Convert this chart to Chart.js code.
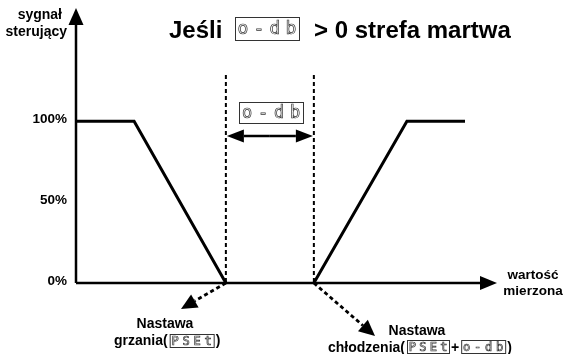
<!DOCTYPE html>
<html>
<head>
<meta charset="utf-8">
<script src="https://cdn.jsdelivr.net/npm/chart.js@4.4.1/dist/chart.umd.min.js"></script>
<style>
  html, body { margin: 0; background: #fff; }
</style>
</head>
<body>
<canvas id="wykres" width="567" height="354"></canvas>
<script>
// dane wykresu (oś X w umownych jednostkach wartości mierzonej)
const grzanieX = [0, 13.8, 35.6];
const grzanieY = [100, 100, 0];
const chlodzenieX = [56.5, 78.6, 92.4];
const chlodzenieY = [0, 100, 100];
const yTickWartosci = [100, 50, 0];
const yTickEtykiety = ["100%", "50%", "0%"];
const nastawaGrzania = 35.6;
const nastawaChlodzenia = 56.5;
const xMax = 100;
const yMax = 170;

const FONT = '"Liberation Sans", Arial, sans-serif';

function punkty(xs, ys) {
  return xs.map((x, i) => ({ x: x, y: ys[i] }));
}

// strzałka z wypełnionym grotem
function strzalka(c, x1, y1, x2, y2, dl, szer, przerywana) {
  const a = Math.atan2(y2 - y1, x2 - x1);
  const bx = x2 - dl * Math.cos(a), by = y2 - dl * Math.sin(a);
  c.save();
  if (przerywana) c.setLineDash([4, 3]);
  c.beginPath();
  c.moveTo(x1, y1);
  c.lineTo(bx, by);
  c.stroke();
  c.setLineDash([]);
  c.beginPath();
  c.moveTo(x2, y2);
  c.lineTo(bx + szer * Math.sin(a), by - szer * Math.cos(a));
  c.lineTo(bx - szer * Math.sin(a), by + szer * Math.cos(a));
  c.closePath();
  c.fill();
  c.restore();
}

// ramka z napisem jak na wyświetlaczu regulatora
function wyswietlacz(c, tekst, x, y, w, h, rozm) {
  c.save();
  c.strokeStyle = "#333";
  c.lineWidth = 1;
  c.strokeRect(x + 0.5, y + 0.5, w, h);
  c.font = rozm + 'px "DejaVu Sans Mono", monospace';
  c.textAlign = "center";
  c.textBaseline = "middle";
  c.lineWidth = 0.7;
  c.strokeStyle = "#333";
  const znaki = [...tekst];
  znaki.forEach((z, i) => {
    c.strokeText(z, x + w * (i + 0.5) / znaki.length, y + h / 2 + 1);
  });
  c.restore();
}

const opisy = {
  id: "opisy",
  afterDraw(chart) {
    const c = chart.ctx;
    const sx = chart.scales.x, sy = chart.scales.y;
    const x0 = sx.getPixelForValue(0), y0 = sy.getPixelForValue(0);
    c.save();
    c.fillStyle = "#000";
    c.strokeStyle = "#000";

    // osie ze strzałkami
    c.lineWidth = 2.5;
    strzalka(c, x0, y0, x0, sy.getPixelForValue(yMax), 17, 7.5, false);
    strzalka(c, x0, y0, sx.getPixelForValue(xMax), y0, 17, 7, false);

    // strefa martwa - przerywane linie pionowe
    const xg = sx.getPixelForValue(nastawaGrzania);
    const xc = sx.getPixelForValue(nastawaChlodzenia);
    c.lineWidth = 2;
    c.setLineDash([4, 3]);
    [xg, xc].forEach(x => {
      c.beginPath();
      c.moveTo(x, 75);
      c.lineTo(x, y0);
      c.stroke();
    });
    c.setLineDash([]);

    // strzałka podwójna o-db
    c.lineWidth = 2.5;
    const ym = 136, xs = (xg + xc) / 2;
    strzalka(c, xs, ym, xg + 1, ym, 17, 6.5, false);
    strzalka(c, xs, ym, xc - 1, ym, 17, 6.5, false);
    wyswietlacz(c, "o-db", 239, 102, 64, 21, 17);

    // strzałki do nastaw
    c.lineWidth = 2.8;
    strzalka(c, xg, y0, 181, 309, 16, 7.5, true);
    strzalka(c, xc, y0, 375, 336, 16, 7.5, true);

    // etykiety osi Y
    c.font = "bold 13.5px " + FONT;
    c.textAlign = "right";
    c.textBaseline = "middle";
    yTickWartosci.forEach((v, i) => {
      c.fillText(yTickEtykiety[i], 67, sy.getPixelForValue(v) - 2);
    });

    c.font = "bold 14px " + FONT;
    c.fillText("sygnał", 62, 15);
    c.fillText("sterujący", 67, 32);

    c.font = "bold 13.5px " + FONT;
    c.textAlign = "center";
    c.fillText("wartość", 533, 275);
    c.fillText("mierzona", 533, 291);

    // tytuł
    c.font = "bold 24px " + FONT;
    c.textAlign = "left";
    c.textBaseline = "alphabetic";
    c.fillText("Jeśli", 169, 38);
    wyswietlacz(c, "o-db", 235, 17, 64, 23, 18);
    c.fillText("> 0 strefa martwa", 314, 38);

    // nastawa grzania
    c.font = "bold 14px " + FONT;
    c.textAlign = "center";
    c.fillText("Nastawa", 165, 328);
    c.textAlign = "left";
    let x = 114;
    c.fillText("grzania(", x, 345);
    x += c.measureText("grzania(").width + 2;
    wyswietlacz(c, "PSEt", x, 334, 44, 13, 12);
    x += 46;
    c.fillText(")", x, 345);

    // nastawa chłodzenia
    c.textAlign = "center";
    c.fillText("Nastawa", 417, 335);
    c.textAlign = "left";
    x = 328;
    c.fillText("chłodzenia(", x, 352);
    x += c.measureText("chłodzenia(").width + 2;
    wyswietlacz(c, "PSEt", x, 340, 42, 13, 12);
    x += 44;
    c.fillText("+", x, 352);
    x += c.measureText("+").width + 2;
    wyswietlacz(c, "o-db", x, 340, 44, 13, 12);
    x += 46;
    c.fillText(")", x, 352);

    c.restore();
  }
};

new Chart(document.getElementById("wykres"), {
  type: "scatter",
  data: {
    datasets: [
      { label: "grzanie", data: punkty(grzanieX, grzanieY) },
      { label: "chłodzenie", data: punkty(chlodzenieX, chlodzenieY) }
    ]
  },
  options: {
    responsive: false,
    animation: false,
    showLine: true,
    layout: { padding: { left: 76, right: 70, top: 8, bottom: 71 } },
    elements: {
      line: { borderColor: "#000", borderWidth: 3, tension: 0 },
      point: { radius: 0, hoverRadius: 0 }
    },
    datasets: { scatter: { clip: false } },
    scales: {
      x: { type: "linear", min: 0, max: xMax, display: false },
      y: { type: "linear", min: 0, max: yMax, display: false }
    },
    plugins: {
      legend: { display: false },
      tooltip: { enabled: false }
    }
  },
  plugins: [opisy]
});
</script>
</body>
</html>
